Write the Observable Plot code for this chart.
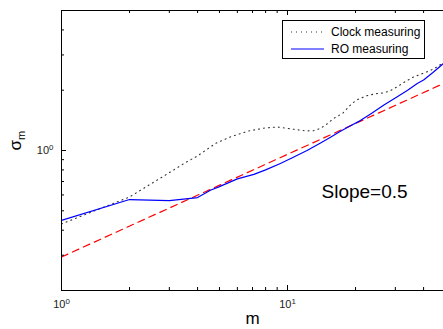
<!DOCTYPE html>
<html><head><meta charset="utf-8">
<script src="https://cdn.jsdelivr.net/npm/d3@7"></script>
<script src="https://cdn.jsdelivr.net/npm/@observablehq/plot@0.6"></script>
<style>
body{margin:0;background:#fff;font-family:"Liberation Sans",Arial,Helvetica,sans-serif}
#wrap{position:relative;width:443px;height:329px;overflow:hidden}
#legend{position:absolute;left:282px;top:20px;width:141px;height:37px;border:1px solid #000;background:#fff;font-size:12px;color:#000}
#legend .row{position:absolute;left:0;height:14px;display:flex;align-items:center}
#legend svg{display:block}
</style>
</head><body><div id="wrap"></div>
<script>
// Clock measuring (dotted black)
const clockM = [1, 2, 2.5, 3, 3.5, 4, 4.8, 5.6, 6.7, 7.9, 9, 10, 11, 12, 13, 14, 15, 16, 17.5, 19.3, 20.5, 22.5, 24.5, 26.7, 28.5, 30.6, 33, 36.2, 39.5, 42.9, 46, 49];
const clockS = [0.43, 0.586, 0.684, 0.775, 0.864, 0.94, 1.084, 1.17, 1.25, 1.295, 1.31, 1.29, 1.27, 1.253, 1.255, 1.29, 1.36, 1.445, 1.53, 1.72, 1.8, 1.88, 1.92, 1.94, 1.99, 2.08, 2.2, 2.33, 2.42, 2.51, 2.62, 2.75];
// RO measuring (solid blue)
const roM = [1, 2, 3, 4, 4.56, 5, 6, 7.1, 8, 9.3, 10.5, 12.2, 14, 15.5, 17, 19, 21, 23.5, 26.7, 30.6, 34, 37.5, 40, 44, 49];
const roS = [0.448, 0.569, 0.562, 0.582, 0.633, 0.66, 0.722, 0.76, 0.8, 0.861, 0.92, 1.0, 1.09, 1.165, 1.24, 1.33, 1.41, 1.53, 1.685, 1.853, 2.0, 2.16, 2.25, 2.45, 2.72];
// Reference line, slope 0.5 (dashed red)
const refM = [1, 49];
const refS = [0.294, 2.16];

const xMajor = [1, 10];
const xMinor = [2, 3, 4, 5, 6, 7, 8, 9, 20, 30, 40];
const yMajor = [1];
const yMinor = [0.2, 0.3, 0.4, 0.5, 0.6, 0.7, 0.8, 0.9, 2, 3, 4, 5];
const xTickLabels = ["10⁰", "10¹"];
const yTickLabels = ["10⁰"];
const xLabel = "m";
const yLabel = "σ";
const yLabelSub = "m";
const annotation = "Slope=0.5";
const legendLabels = ["Clock measuring", "RO measuring"];

const clock = clockM.map((m, i) => ({m, s: clockS[i]}));
const ro = roM.map((m, i) => ({m, s: roS[i]}));
const ref = refM.map((m, i) => ({m, s: refS[i]}));

const W = 443, H = 329, mt = 10, mb = 39, ml = 61, mr = 0;
const ph = H - mt - mb, pw = W - ml - mr;
const font = "'Liberation Sans', Arial, Helvetica, sans-serif";

const chart = Plot.plot({
  width: W, height: H,
  marginTop: mt, marginBottom: mb, marginLeft: ml, marginRight: mr,
  x: {type: "log", domain: [1, 49]},
  y: {type: "log", domain: [0.2, 5]},
  style: {fontFamily: font, fontSize: "11px", color: "#000", background: "#fff", overflow: "visible"},
  marks: [
    Plot.line(ref, {x: "m", y: "s", stroke: "#ff0000", strokeWidth: 1.2, strokeDasharray: "7,5"}),
    Plot.line(clock, {x: "m", y: "s", stroke: "#333", strokeWidth: 1.1, strokeDasharray: "1,4"}),
    Plot.line(ro, {x: "m", y: "s", stroke: "#0000ff", strokeWidth: 1.2}),
    Plot.ruleX([1], {stroke: "#000", strokeWidth: 1}),
    Plot.ruleY([0.2], {stroke: "#000", strokeWidth: 1}),
    Plot.ruleY([5], {stroke: "#000", strokeWidth: 1}),
    Plot.tickX(xMajor, {x: d => d, insetTop: ph - 5, stroke: "#000"}),
    Plot.tickX(xMinor, {x: d => d, insetTop: ph - 3, stroke: "#000"}),
    Plot.tickX(xMajor, {x: d => d, insetBottom: ph - 5, stroke: "#000"}),
    Plot.tickX(xMinor, {x: d => d, insetBottom: ph - 3, stroke: "#000"}),
    Plot.tickY(yMajor, {y: d => d, insetRight: pw - 5, stroke: "#000"}),
    Plot.tickY(yMinor, {y: d => d, insetRight: pw - 3, stroke: "#000"}),
    Plot.axisX(xMajor, {tickSize: 0, tickPadding: 10, label: null, fill: "#222", tickFormat: d => xTickLabels[xMajor.indexOf(d)]}),
    Plot.axisY(yMajor, {tickSize: 0, tickPadding: 8, label: null, fill: "#222", tickFormat: d => yTickLabels[yMajor.indexOf(d)]}),
    Plot.text([xLabel], {text: d => d, frameAnchor: "bottom", dy: 33, fontSize: 17, fill: "#000"}),
    Plot.text([yLabel + yLabelSub], {text: d => d, frameAnchor: "left", dx: -46, rotate: -90, fontSize: 17, fill: "#000"}),
    Plot.text([annotation], {text: d => d, frameAnchor: "top-left", textAnchor: "start", dx: 260, dy: 174, fontSize: 19, fill: "#000"})
  ]
});

const supMap = {"⁰": "0", "¹": "1"};
d3.select(chart).selectAll("text").each(function() {
  const t = d3.select(this);
  const s = t.text();
  if (s === yLabel + yLabelSub) {
    t.text("");
    t.append("tspan").text(yLabel);
    t.append("tspan").attr("font-size", "0.65em").attr("dy", "0.35em").text(yLabelSub);
  } else if (xTickLabels.includes(s) || yTickLabels.includes(s)) {
    const base = s.slice(0, -1), sup = supMap[s.slice(-1)];
    t.text("");
    t.append("tspan").text(base);
    t.append("tspan").attr("font-size", "0.72em").attr("dy", "-0.5em").text(sup);
  }
});

const wrap = document.getElementById("wrap");
wrap.appendChild(chart);

const legend = document.createElement("div");
legend.id = "legend";
const styles = [
  {stroke: "#333", dash: "1,4", w: 1.1},
  {stroke: "#0000ff", dash: null, w: 1.2}
];
legendLabels.forEach((lab, i) => {
  const row = document.createElement("div");
  row.className = "row";
  row.style.top = (4 + i * 17) + "px";
  const sv = d3.create("svg").attr("width", 48).attr("height", 14);
  sv.append("line").attr("x1", 8).attr("x2", 41).attr("y1", 7).attr("y2", 7)
    .attr("stroke", styles[i].stroke).attr("stroke-width", styles[i].w)
    .attr("stroke-dasharray", styles[i].dash);
  row.appendChild(sv.node());
  const span = document.createElement("span");
  span.textContent = lab;
  row.appendChild(span);
  legend.appendChild(row);
});
wrap.appendChild(legend);
</script>
</body></html>
